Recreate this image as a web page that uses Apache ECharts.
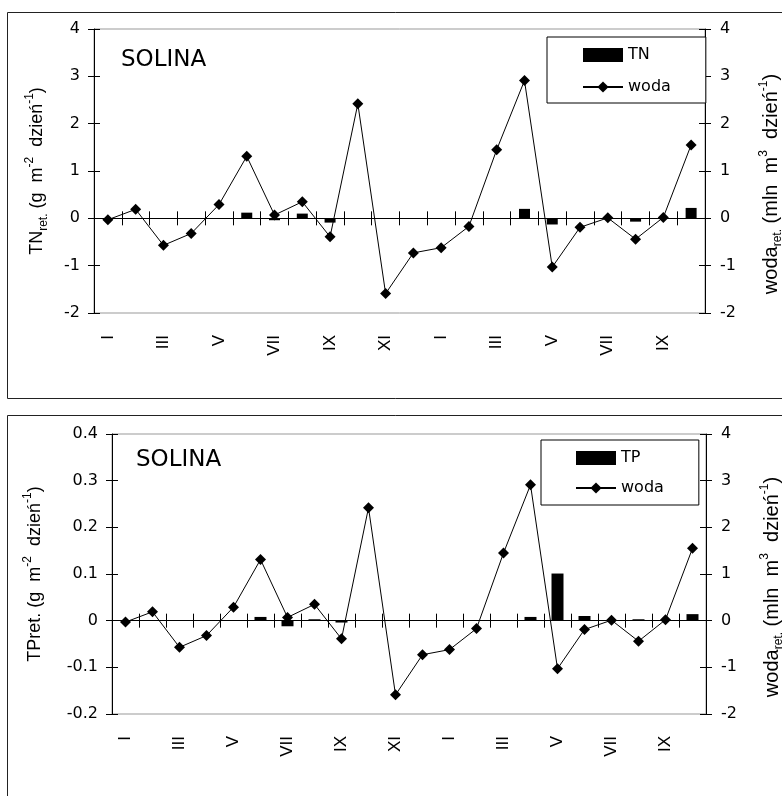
<!DOCTYPE html>
<html>
<head>
<meta charset="utf-8">
<script src="https://cdn.jsdelivr.net/npm/echarts@6/dist/echarts.min.js"></script>
<style>
html, body { margin: 0; padding: 0; background: #fff; }
#chart { width: 782px; height: 796px; }
</style>
</head>
<body>
<div id="chart"></div>
<script>
// miesiące: dwa lata (I-XII, I-X)
const months = ['I', 'II', 'III', 'IV', 'V', 'VI', 'VII', 'VIII', 'IX', 'X', 'XI', 'XII',
                'I', 'II', 'III', 'IV', 'V', 'VI', 'VII', 'VIII', 'IX', 'X'];

// retencja wody (mln m3 / dzień)
const woda = [-0.03, 0.19, -0.57, -0.32, 0.29, 1.31, 0.07, 0.35, -0.39, 2.42, -1.59,
              -0.73, -0.62, -0.17, 1.45, 2.91, -1.03, -0.19, 0.01, -0.44, 0.02, 1.55];

// retencja TN i TP (g m-2 / dzień)
const tn = [null, null, null, null, null, 0.12, -0.04, 0.10, -0.09, null, null,
            null, null, null, null, 0.20, -0.13, null, null, -0.07, null, 0.22];
const tp = [null, null, null, null, null, 0.008, -0.012, 0.003, -0.004, null, null,
            null, null, null, null, 0.008, 0.101, 0.010, null, 0.003, null, 0.014];

// podziałki osi
const tnTicks = [-2, -1, 0, 1, 2, 3, 4];
const tpTicks = [-0.2, -0.1, 0, 0.1, 0.2, 0.3, 0.4];
const wodaTicks = [-2, -1, 0, 1, 2, 3, 4];

const FONT = 'DejaVu Sans';
const FONT2 = 'Liberation Sans';

function rich(size) {
    return {
        m: { fontFamily: FONT2, fontSize: size, lineHeight: 26, color: '#000' },
        sub: { fontFamily: FONT2, fontSize: 12, lineHeight: 12, verticalAlign: 'bottom', color: '#000' },
        sup: { fontFamily: FONT2, fontSize: 12, lineHeight: 12, verticalAlign: 'top', color: '#000' }
    };
}

const tnName = '{m|TN}{sub|ret.}{m| (g  m}{sup|-2}{m|  dzień}{sup|-1}{m|)}';
const tpName = '{m|TPret. (g  m}{sup|-2}{m|  dzień}{sup|-1}{m|)}';
const wodaName = '{m|woda}{sub|ret.}{m| (mln  m}{sup|3}{m|  dzień}{sup|-1}{m|)}';

const black = { color: '#000', width: 1 };

function range(ticks) {
    return { min: ticks[0], max: ticks[ticks.length - 1], interval: ticks[1] - ticks[0] };
}

// osie X jednego wykresu: linia zera z kreskami w obie strony + osobna oś z opisami
function xAxes(g, yZero, labelMargin) {
    const base = {
        type: 'category', gridIndex: g, data: months,
        axisLabel: { show: false }, splitLine: { show: false }
    };
    return [
        Object.assign({}, base, {
            position: 'bottom',
            axisLine: { show: true, onZero: true, onZeroAxisIndex: yZero, lineStyle: black },
            axisTick: { show: true, interval: 0, length: 7, lineStyle: black }
        }),
        Object.assign({}, base, {
            position: 'top',
            axisLine: { show: true, onZero: true, onZeroAxisIndex: yZero, lineStyle: black },
            axisTick: { show: true, interval: 0, length: 7, lineStyle: black }
        }),
        Object.assign({}, base, {
            position: 'bottom',
            axisLine: { show: false, onZero: false },
            axisTick: { show: false },
            axisLabel: {
                show: true, interval: 1, rotate: 90, margin: labelMargin,
                fontFamily: FONT2, fontSize: 17, color: '#000'
            }
        })
    ];
}

// osie Y: lewa, prawa + kopie z kreskami do środka
function yAxes(g, leftTicks, leftName, leftGap, rightTicks, rightName, rightGap) {
    const lbl = { fontFamily: FONT, fontSize: 16, color: '#000' };
    return [
        Object.assign({
            type: 'value', gridIndex: g, position: 'left',
            name: leftName, nameLocation: 'middle', nameRotate: 90, nameGap: leftGap,
            nameMoveOverlap: false,
            nameTextStyle: { rich: rich(18) },
            axisLine: { show: true, onZero: false, lineStyle: black },
            axisTick: { show: true, length: 6, lineStyle: black },
            axisLabel: Object.assign({ margin: 14 }, lbl),
            splitLine: { show: false }
        }, range(leftTicks)),
        Object.assign({
            type: 'value', gridIndex: g, position: 'right',
            name: rightName, nameLocation: 'middle', nameRotate: 90, nameGap: rightGap,
            nameMoveOverlap: false,
            nameTextStyle: { rich: rich(20), padding: [0, 26, 0, 0] },
            axisLine: { show: true, onZero: false, lineStyle: black },
            axisTick: { show: true, length: 6, lineStyle: black },
            axisLabel: Object.assign({ margin: 15 }, lbl),
            splitLine: { show: false }
        }, range(rightTicks)),
        Object.assign({
            type: 'value', gridIndex: g, position: 'left',
            axisLine: { show: false, onZero: false },
            axisTick: { show: true, inside: true, length: 6, lineStyle: black },
            axisLabel: { show: false }, splitLine: { show: false }
        }, range(leftTicks)),
        Object.assign({
            type: 'value', gridIndex: g, position: 'right',
            axisLine: { show: false, onZero: false },
            axisTick: { show: true, inside: true, length: 6, lineStyle: black },
            axisLabel: { show: false }, splitLine: { show: false }
        }, range(rightTicks))
    ];
}

function legend(name, left, top, padding, gap) {
    return {
        data: [{ name: name, icon: 'rect' }, 'woda'],
        orient: 'vertical', left: left, top: top,
        padding: padding, itemGap: gap, itemWidth: 40, itemHeight: 14,
        borderColor: '#000', borderWidth: 1, backgroundColor: '#fff',
        selectedMode: false,
        textStyle: { fontFamily: FONT, fontSize: 16, color: '#000' }
    };
}

const chart = echarts.init(document.getElementById('chart'));

chart.setOption({
    animation: false,
    backgroundColor: '#fff',
    grid: [
        { left: 94, top: 29, width: 611, height: 284, show: true, borderColor: '#999', borderWidth: 1,
          backgroundColor: 'transparent', containLabel: false, outerBoundsMode: 'none' },
        { left: 112, top: 434, width: 594, height: 280, show: true, borderColor: '#999', borderWidth: 1,
          backgroundColor: 'transparent', containLabel: false, outerBoundsMode: 'none' }
    ],
    legend: [
        legend('TN', 547, 37, [10, 35, 8, 35], 16),
        legend('TP', 541, 440, [10, 35, 9, 34], 14)
    ],
    xAxis: xAxes(0, 0, 22).concat(xAxes(1, 4, 22)),
    yAxis: yAxes(0, tnTicks, tnName, 44, wodaTicks, wodaName, 53)
        .concat(yAxes(1, tpTicks, tpName, 64, wodaTicks, wodaName, 53)),
    graphic: [
        { type: 'rect', z: -1, shape: { x: 7.5, y: 12.5, width: 800, height: 386 },
          style: { fill: 'none', stroke: '#222', lineWidth: 1 } },
        { type: 'rect', z: -1, shape: { x: 7.5, y: 415.5, width: 800, height: 400 },
          style: { fill: 'none', stroke: '#222', lineWidth: 1 } },
        { type: 'text', left: 121, top: 49,
          style: { text: 'SOLINA', font: '23px "DejaVu Sans"', fill: '#000' } },
        { type: 'text', left: 136, top: 449,
          style: { text: 'SOLINA', font: '23px "DejaVu Sans"', fill: '#000' } }
    ],
    series: [
        {
            name: 'TN', type: 'bar', xAxisIndex: 0, yAxisIndex: 0,
            barWidth: 11, itemStyle: { color: '#000' }, data: tn
        },
        {
            name: 'woda', type: 'line', xAxisIndex: 0, yAxisIndex: 1, z: 3,
            symbol: 'diamond', symbolSize: 11,
            itemStyle: { color: '#000' }, lineStyle: { color: '#000', width: 1 },
            data: woda
        },
        {
            name: 'TP', type: 'bar', xAxisIndex: 3, yAxisIndex: 4,
            barWidth: 12, itemStyle: { color: '#000' }, data: tp
        },
        {
            name: 'woda', type: 'line', xAxisIndex: 3, yAxisIndex: 5, z: 3,
            symbol: 'diamond', symbolSize: 11,
            itemStyle: { color: '#000' }, lineStyle: { color: '#000', width: 1 },
            data: woda
        }
    ]
});
</script>
</body>
</html>
